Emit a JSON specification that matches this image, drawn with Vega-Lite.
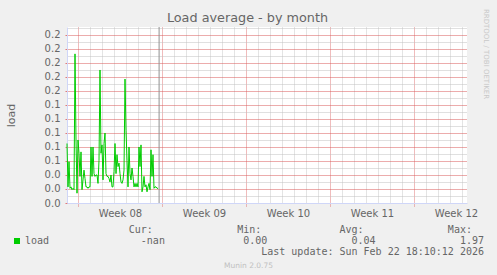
{
  "$schema": "https://vega.github.io/schema/vega-lite/v6.json",
  "width": 400,
  "height": 176,
  "autosize": {"type": "none"},
  "padding": {"left": 67, "top": 27, "right": 30, "bottom": 72},
  "background": "#f0f0f0",
  "title": {
    "text": "Load average - by month",
    "orient": "top",
    "anchor": "middle",
    "frame": "group",
    "dx": -19.5,
    "dy": 26,
    "offset": 0,
    "baseline": "alphabetic",
    "font": "DejaVu Sans",
    "fontSize": 12.8,
    "fontWeight": "normal",
    "color": "#666666"
  },
  "datasets": {
    "load": [
      {"h": -22, "load": 0.085}, {"h": -20, "load": 0.023}, {"h": -18, "load": 0.059}, {"h": -16, "load": 0.021},
      {"h": -14, "load": 0.023}, {"h": -12, "load": 0.019}, {"h": -10, "load": 0.021}, {"h": -8, "load": 0.019},
      {"h": -6, "load": 0.213}, {"h": -4, "load": 0.09}, {"h": -2, "load": 0.014}, {"h": 0, "load": 0.09},
      {"h": 2, "load": 0.071}, {"h": 4, "load": 0.038}, {"h": 6, "load": 0.073}, {"h": 8, "load": 0.019},
      {"h": 10, "load": 0.033}, {"h": 12, "load": 0.047}, {"h": 14, "load": 0.035}, {"h": 16, "load": 0.023},
      {"h": 18, "load": 0.023}, {"h": 20, "load": 0.021}, {"h": 22, "load": 0.023}, {"h": 24, "load": 0.023},
      {"h": 26, "load": 0.08}, {"h": 28, "load": 0.038}, {"h": 30, "load": 0.08}, {"h": 32, "load": 0.042},
      {"h": 34, "load": 0.038}, {"h": 36, "load": 0.04}, {"h": 38, "load": 0.04}, {"h": 40, "load": 0.028},
      {"h": 42, "load": 0.061}, {"h": 44, "load": 0.19}, {"h": 46, "load": 0.071}, {"h": 48, "load": 0.083},
      {"h": 50, "load": 0.033}, {"h": 52, "load": 0.085}, {"h": 54, "load": 0.1}, {"h": 56, "load": 0.042},
      {"h": 58, "load": 0.038}, {"h": 60, "load": 0.038}, {"h": 62, "load": 0.035}, {"h": 64, "load": 0.03},
      {"h": 66, "load": 0.04}, {"h": 68, "load": 0.023}, {"h": 70, "load": 0.023}, {"h": 72, "load": 0.045},
      {"h": 74, "load": 0.085}, {"h": 76, "load": 0.042}, {"h": 78, "load": 0.069}, {"h": 80, "load": 0.052},
      {"h": 82, "load": 0.057}, {"h": 84, "load": 0.042}, {"h": 86, "load": 0.03}, {"h": 88, "load": 0.028},
      {"h": 90, "load": 0.033}, {"h": 92, "load": 0.047}, {"h": 94, "load": 0.177}, {"h": 96, "load": 0.104},
      {"h": 98, "load": 0.061}, {"h": 100, "load": 0.023}, {"h": 102, "load": 0.08}, {"h": 104, "load": 0.042},
      {"h": 106, "load": 0.033}, {"h": 108, "load": 0.05}, {"h": 110, "load": 0.038}, {"h": 112, "load": 0.023},
      {"h": 114, "load": 0.028}, {"h": 116, "load": 0.023}, {"h": 118, "load": 0.028}, {"h": 120, "load": 0.023},
      {"h": 122, "load": 0.08}, {"h": 124, "load": 0.052}, {"h": 126, "load": 0.083}, {"h": 128, "load": 0.016},
      {"h": 130, "load": 0.023}, {"h": 132, "load": 0.038}, {"h": 134, "load": 0.023}, {"h": 136, "load": 0.026},
      {"h": 138, "load": 0.016}, {"h": 140, "load": 0.023}, {"h": 142, "load": 0.028}, {"h": 144, "load": 0.019},
      {"h": 146, "load": 0.076}, {"h": 148, "load": 0.038}, {"h": 150, "load": 0.069}, {"h": 152, "load": 0.021},
      {"h": 154, "load": 0.023}, {"h": 156, "load": 0.023}, {"h": 158, "load": 0.021}, {"h": 160, "load": 0.021}
    ],
    "now": [{"h": 162.2}]
  },
  "layer": [
    {
      "data": {"name": "load"},
      "mark": {"type": "line", "strokeWidth": 1, "interpolate": "linear"},
      "encoding": {
        "x": {
          "field": "h",
          "type": "quantitative",
          "scale": {"domain": [-22, 778], "nice": false, "zero": false},
          "axis": {
            "orient": "bottom",
            "values": [0, 24, 48, 72, 96, 120, 144, 168, 192, 216, 240, 264, 288, 312, 336, 360, 384, 408, 432, 456, 480, 504, 528, 552, 576, 600, 624, 648, 672, 696, 720, 744, 768, 84, 252, 420, 588, 756],
            "labelExpr": "datum.value % 168 == 84 ? 'Week ' + ((8 + floor(datum.value / 168)) < 10 ? '0' : '') + (8 + floor(datum.value / 168)) : ''",
            "labelOverlap": false,
            "labelBound": false,
            "labelFlush": false,
            "labelPadding": 1,
            "labelFont": "DejaVu Sans",
            "labelFontSize": 10,
            "labelColor": "#666666",
            "tickSize": 4,
            "tickColor": "#e07878",
            "tickDash": [1, 1],
            "tickOpacity": {"condition": {"test": "datum.value % 168 == 0", "value": 1}, "value": 0},
            "grid": true,
            "gridColor": {"condition": {"test": "datum.value % 168 == 0", "value": "#e07878"}, "value": "#c8c8c8"},
            "gridOpacity": {"condition": {"test": "datum.value % 24 == 12", "value": 0}, "value": 1},
            "gridDash": [1, 1],
            "domainColor": "#CFD6F8",
            "title": [
              "Cur:\u00a0\u00a0\u00a0\u00a0\u00a0\u00a0\u00a0\u00a0\u00a0\u00a0\u00a0\u00a0\u00a0\u00a0Min:\u00a0\u00a0\u00a0\u00a0\u00a0\u00a0\u00a0\u00a0\u00a0\u00a0\u00a0\u00a0\u00a0Avg:\u00a0\u00a0\u00a0\u00a0\u00a0\u00a0\u00a0\u00a0\u00a0\u00a0\u00a0\u00a0\u00a0\u00a0Max:\u00a0\u00a0\u200b",
              "-nan\u00a0\u00a0\u00a0\u00a0\u00a0\u00a0\u00a0\u00a0\u00a0\u00a0\u00a0\u00a0\u00a00.00\u00a0\u00a0\u00a0\u00a0\u00a0\u00a0\u00a0\u00a0\u00a0\u00a0\u00a0\u00a0\u00a0\u00a00.04\u00a0\u00a0\u00a0\u00a0\u00a0\u00a0\u00a0\u00a0\u00a0\u00a0\u00a0\u00a0\u00a0\u00a01.97",
              "Last update: Sun Feb 22 18:10:12 2026"
            ],
            "titleX": 416.5,
            "titleY": 29,
            "titleAlign": "right",
            "titleAnchor": "end",
            "titleBaseline": "alphabetic",
            "titleFont": "DejaVu Sans Mono",
            "titleFontSize": 10,
            "titleFontWeight": "normal",
            "titleColor": "#666666",
            "titleLineHeight": 11
          }
        },
        "y": {
          "field": "load",
          "type": "quantitative",
          "scale": {"domain": [0, 0.2514], "nice": false, "zero": true},
          "axis": {
            "orient": "left",
            "values": [0, 0.01, 0.02, 0.03, 0.04, 0.05, 0.06, 0.07, 0.08, 0.09, 0.1, 0.11, 0.12, 0.13, 0.14, 0.15, 0.16, 0.17, 0.18, 0.19, 0.2, 0.21, 0.22, 0.23, 0.24, 0.25],
            "labelExpr": "round(datum.value * 100) % 2 == 0 ? format(datum.value, '.1f') : ''",
            "labelOverlap": false,
            "labelBound": false,
            "labelFlush": false,
            "labelFont": "DejaVu Sans",
            "labelFontSize": 10,
            "labelColor": "#666666",
            "labelPadding": 5,
            "tickSize": 2,
            "tickColor": "#e07878",
            "tickOpacity": {"condition": {"test": "round(datum.value * 100) % 2 == 0", "value": 1}, "value": 0},
            "grid": true,
            "gridColor": {"condition": {"test": "round(datum.value * 100) % 2 == 0", "value": "#d85858"}, "value": "#c0c0c0"},
            "gridOpacity": 1,
            "gridDash": [1, 1],
            "domainColor": "#CFD6F8",
            "title": "load",
            "titleX": -53,
            "titleY": 88,
            "titleAngle": -90,
            "titleAlign": "center",
            "titleBaseline": "alphabetic",
            "titleFont": "DejaVu Sans",
            "titleFontSize": 11,
            "titleFontWeight": "normal",
            "titleColor": "#666666"
          }
        },
        "color": {
          "datum": "load",
          "scale": {"range": ["#00cc00"]},
          "legend": {
            "orient": "none",
            "legendX": -55,
            "legendY": 209,
            "title": null,
            "padding": 0,
            "symbolType": "square",
            "symbolSize": 36,
            "symbolFillColor": "#00cc00",
            "symbolStrokeColor": "#00cc00",
            "symbolStrokeWidth": 0,
            "labelFont": "DejaVu Sans Mono",
            "labelFontSize": 10,
            "labelColor": "#666666",
            "labelOffset": 3,
            "encode": {"symbols": {"update": {"fill": {"value": "#00cc00"}, "strokeWidth": {"value": 0}, "shape": {"value": "square"}}}}
          }
        }
      }
    },
    {
      "data": {"name": "now"},
      "mark": {"type": "rule", "color": "#909090", "strokeWidth": 1},
      "encoding": {
        "x": {
          "field": "h",
          "type": "quantitative",
          "axis": {
            "orient": "top",
            "labels": false,
            "ticks": false,
            "domain": false,
            "grid": false,
            "title": "Munin 2.0.75",
            "titleX": 181,
            "titleY": 240,
            "titleAlign": "center",
            "titleBaseline": "alphabetic",
            "titleFont": "DejaVu Sans",
            "titleFontSize": 7.5,
            "titleFontWeight": "normal",
            "titleColor": "#c0c0c0"
          }
        },
        "y": {
          "datum": 0,
          "type": "quantitative",
          "axis": {
            "orient": "right",
            "labels": false,
            "ticks": false,
            "domain": false,
            "grid": false,
            "title": "RRDTOOL / TOBI OETIKER",
            "titleX": 16.3,
            "titleY": 26.5,
            "titleAngle": 90,
            "titleAlign": "center",
            "titleBaseline": "alphabetic",
            "titleFont": "DejaVu Sans",
            "titleFontSize": 7,
            "titleFontWeight": "normal",
            "titleColor": "#c8c8c8"
          }
        },
        "y2": {"datum": 0.2514}
      }
    }
  ],
  "resolve": {"axis": {"x": "independent", "y": "independent"}},
  "config": {
    "view": {"stroke": null, "fill": "#ffffff"}
  }
}
